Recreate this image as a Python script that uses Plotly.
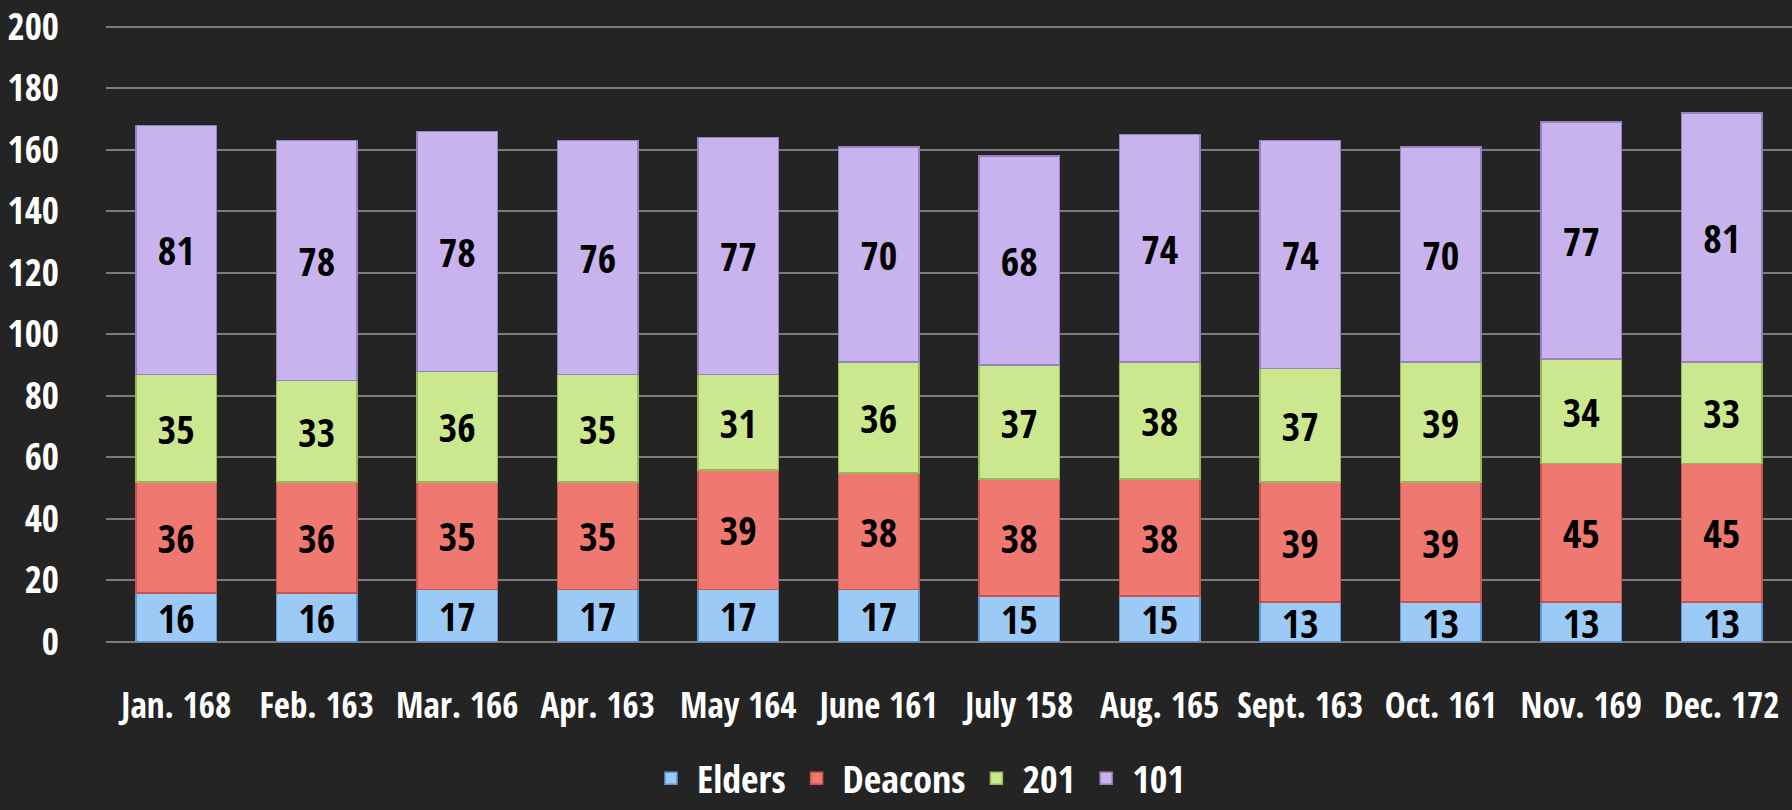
import plotly.graph_objects as go

months = ["Jan.", "Feb.", "Mar.", "Apr.", "May", "June", "July", "Aug.", "Sept.", "Oct.", "Nov.", "Dec."]
totals = [168, 163, 166, 163, 164, 161, 158, 165, 163, 161, 169, 172]
elders = [16, 16, 17, 17, 17, 17, 15, 15, 13, 13, 13, 13]
deacons = [36, 36, 35, 35, 39, 38, 38, 38, 39, 39, 45, 45]
s201 = [35, 33, 36, 35, 31, 36, 37, 38, 37, 39, 34, 33]
s101 = [81, 78, 78, 76, 77, 70, 68, 74, 74, 70, 77, 81]
y_ticks = [0, 20, 40, 60, 80, 100, 120, 140, 160, 180, 200]

categories = [f"{m} {t}" for m, t in zip(months, totals)]

FONT = "Open Sans Condensed, Roboto Condensed, sans-serif"

series = [
    ("Elders", elders, "#9ccaf7", "#5d98d4"),
    ("Deacons", deacons, "#ef7870", "#c9544d"),
    ("201", s201, "#cbe88f", "#98b85c"),
    ("101", s101, "#c8b3ee", "#9582c0"),
]

fig = go.Figure()
for name, vals, col, edge in series:
    fig.add_trace(go.Bar(
        name=name, x=categories, y=vals,
        marker=dict(color=col, line=dict(color=edge, width=1.5)),
        text=[str(v) for v in vals],
        textposition="inside", insidetextanchor="middle",
        constraintext="none", textangle=0,
        textfont=dict(family=FONT, size=40, color="#000000", weight="bold"),
    ))

fig.update_layout(
    barmode="stack",
    bargap=0.424,
    width=1792, height=810,
    margin=dict(l=106, r=0, t=25, b=168, autoexpand=False),
    paper_bgcolor="#242424",
    plot_bgcolor="#242424",
    font=dict(family=FONT, color="#ffffff", weight="bold"),
    showlegend=True,
    legend=dict(
        orientation="h", traceorder="normal",
        x=0.512, xref="container", xanchor="center",
        y=-0.032, yref="container", yanchor="bottom",
        font=dict(family=FONT, size=38, color="#ffffff", weight="bold"),
        bgcolor="rgba(0,0,0,0)", itemwidth=42,
    ),
    xaxis=dict(
        showgrid=False, zeroline=False, showline=False, automargin=False,
        tickangle=0, ticklabeloverflow="allow",
        tickfont=dict(family=FONT, size=35, color="#ffffff", weight="bold"),
        ticklabelstandoff=40,
    ),
    yaxis=dict(
        range=[0, 200.6], tickvals=y_ticks, automargin=False,
        ticklabeloverflow="allow",
        showgrid=True, gridcolor="#7c7c7c", gridwidth=2,
        zeroline=True, zerolinecolor="#7c7c7c", zerolinewidth=2,
        tickfont=dict(family=FONT, size=37, color="#ffffff", weight="bold"),
        ticklabelstandoff=46,
    ),
)

fig.write_html(
    "out.html",
    config={"displayModeBar": False},
    post_script="document.body.style.margin='0';document.body.style.background='#242424';",
)
